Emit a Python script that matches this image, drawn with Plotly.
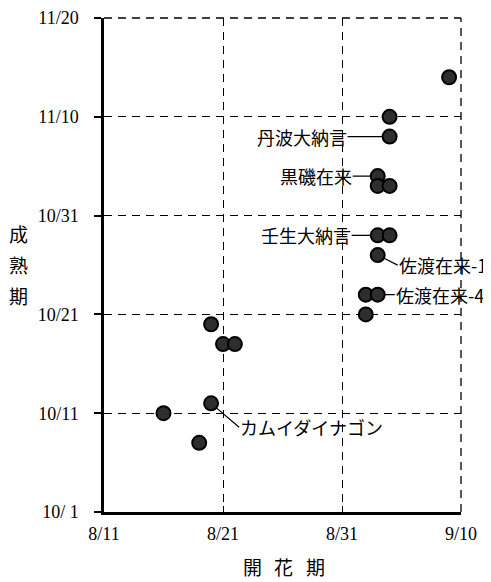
import plotly.graph_objects as go
from datetime import date

# ---- data ----
flowering = ["9/9", "9/4", "9/4", "9/3", "9/3", "9/4", "9/3", "9/4", "9/3",
             "9/2", "9/3", "9/2", "8/20", "8/21", "8/22", "8/20", "8/16", "8/19"]
maturity = ["11/14", "11/10", "11/8", "11/4", "11/3", "11/3", "10/29", "10/29", "10/27",
            "10/23", "10/23", "10/21", "10/20", "10/18", "10/18", "10/12", "10/11", "10/8"]

x_ticks = ["8/11", "8/21", "8/31", "9/10"]
y_ticks = ["10/1", "10/11", "10/21", "10/31", "11/10", "11/20"]
y_ticktext = ["10/ 1", "10/11", "10/21", "10/31", "11/10", "11/20"]

labels = ["丹波大納言", "黒磯在来", "壬生大納言", "佐渡在来-1", "佐渡在来-4", "カムイダイナゴン"]
label_points = [2, 3, 6, 8, 10, 15]

x_title = "開花期"
y_title = "成熟期"


def doy(s):
    m, d = s.split("/")
    return date(2000, int(m), int(d)).toordinal()


x0 = doy(x_ticks[0])
y0 = doy(y_ticks[0])
xv = [doy(s) - x0 for s in flowering]
yv = [doy(s) - y0 for s in maturity]
xt = [doy(s) - x0 for s in x_ticks]
yt = [doy(s) - y0 for s in y_ticks]

fig = go.Figure()
fig.add_trace(go.Scatter(
    x=xv, y=yv, mode="markers",
    marker=dict(size=14, color="#2e2e2e", line=dict(color="#000000", width=2)),
    showlegend=False, hoverinfo="skip",
))

tick_font = dict(family="Liberation Serif", size=18, color="#000000")
jp_font = dict(family="Noto Sans CJK JP", size=18, color="#000000")
DASH = "8px,6px"

fig.update_xaxes(
    range=[xt[0], xt[-1]], tickvals=xt, ticktext=x_ticks,
    showgrid=True, gridcolor="#000000", griddash=DASH, gridwidth=1.3,
    showline=True, linecolor="#000000", linewidth=2.5,
    ticks="inside", ticklen=6, tickcolor="#000000", tickwidth=1.3,
    tickfont=tick_font, zeroline=False, ticklabelstandoff=4, automargin=False,
)
fig.update_yaxes(
    range=[yt[0], yt[-1]], tickvals=yt, ticktext=y_ticktext,
    showgrid=True, gridcolor="#000000", griddash=DASH, gridwidth=1.3,
    showline=True, linecolor="#000000", linewidth=2.5,
    ticks="outside", ticklen=7, tickcolor="#000000", tickwidth=1.5,
    tickfont=tick_font, zeroline=False, ticklabelstandoff=12, automargin=False,
)

# dashed grid lines on the top and right borders (last ticks)
fig.add_shape(type="line", xref="paper", yref="paper", x0=0, x1=1, y0=1, y1=1,
              line=dict(color="#000000", width=1.3, dash=DASH))
fig.add_shape(type="line", xref="paper", yref="paper", x0=1, x1=1, y0=0, y1=1,
              line=dict(color="#000000", width=1.3, dash=DASH))

# label annotations with leader lines
offsets = [(-42, 0, "right"), (-25, 0, "right"), (-26, 0, "right"),
           (20, 10, "left"), (17, 0, "left"), (28, 24, "left")]
for txt, idx, (ax, ay, anc) in zip(labels, label_points, offsets):
    fig.add_annotation(
        x=xv[idx], y=yv[idx], text=txt, showarrow=True, arrowhead=0,
        arrowwidth=1.2, arrowcolor="#000000", ax=ax, ay=ay, standoff=7,
        xanchor=anc, yanchor="middle", font=jp_font, borderpad=0,
    )

# axis titles (stacked / spaced characters)
title_font = dict(family="Noto Sans CJK JP", size=19, color="#000000")
for i, ch in enumerate(y_title):
    fig.add_annotation(
        xref="paper", yref="paper", x=(18 - 104) / 357, y=(512 - 233 - 31 * i) / 494,
        text=ch, showarrow=False, font=title_font,
        xanchor="center", yanchor="middle",
    )
for i, ch in enumerate(x_title):
    fig.add_annotation(
        xref="paper", yref="paper", x=(252 + 31.5 * i - 104) / 357, y=-(566 - 512) / 494,
        text=ch, showarrow=False, font=title_font,
        xanchor="center", yanchor="middle",
    )

fig.update_layout(
    width=491, height=582,
    margin=dict(l=96, r=38, t=10, b=78, autoexpand=False),
    plot_bgcolor="#ffffff", paper_bgcolor="#ffffff",
)

fig.write_html("out.html")
